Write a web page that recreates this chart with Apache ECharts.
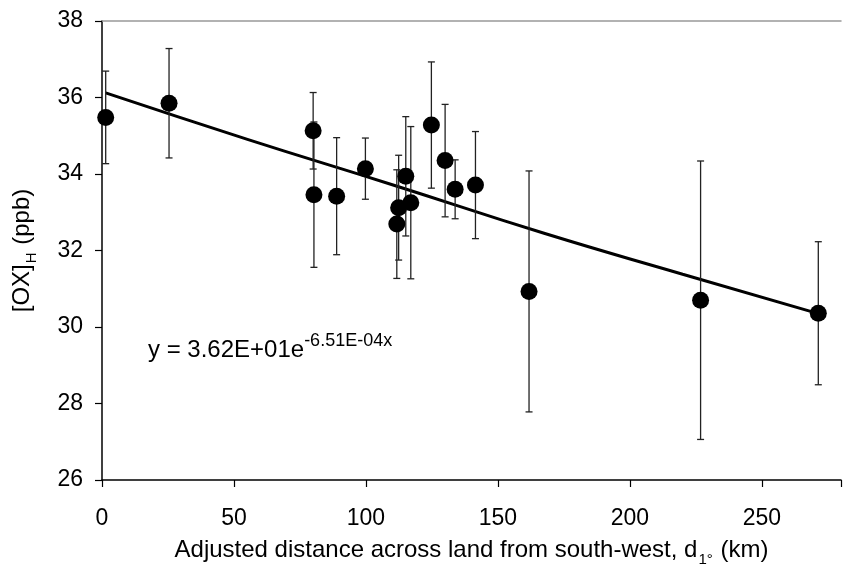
<!DOCTYPE html>
<html>
<head>
<meta charset="utf-8">
<script src="https://cdn.jsdelivr.net/npm/echarts@6/dist/echarts.min.js"></script>
<style>
html,body{margin:0;padding:0;background:#fff;}
#chart{width:844px;height:572px;}
</style>
</head>
<body>
<div id="chart"></div>
<script>
// distance (km)
const distances = [1.4, 25.4, 80.0, 80.3, 88.9, 99.8, 111.7, 112.4, 115.1, 117.0, 124.8, 130.0, 133.8, 141.5, 161.8, 226.8, 271.4];
// [OX]H (ppb)
const oxValues = [35.48, 35.85, 35.13, 33.46, 33.42, 34.14, 32.69, 33.12, 33.94, 33.25, 35.28, 34.35, 33.60, 33.71, 30.93, 30.70, 30.36];
// error bar half-widths (ppb)
const oxErrors = [1.21, 1.43, 1.00, 1.90, 1.53, 0.80, 1.42, 1.37, 1.56, 1.99, 1.65, 1.47, 0.77, 1.40, 3.15, 3.64, 1.87];
// fitted trend line
const trendX = [1.4, 55.4, 110, 167.5, 220, 271.4];
const trendY = [36.12, 34.90, 33.72, 32.45, 31.38, 30.35];
// axis ticks
const xTicks = [0, 50, 100, 150, 200, 250];
const yTicks = [26, 28, 30, 32, 34, 36, 38];

const FONT = '"Liberation Sans", Arial, sans-serif';

const scatterData = distances.map((d, i) => [d, oxValues[i]]);
const errorData = distances.map((d, i) => [d, oxValues[i] - oxErrors[i], oxValues[i] + oxErrors[i]]);
const trendData = trendX.map((x, i) => [x, trendY[i]]);

const chart = echarts.init(document.getElementById('chart'), null, {renderer: 'canvas'});

const option = {
  animation: false,
  backgroundColor: '#fff',
  grid: {left: 102, right: -8, top: 21, bottom: 88, containLabel: false},
  xAxis: [{
    type: 'value',
    min: 0, max: 280, interval: 50,
    position: 'bottom',
    axisLine: {show: true, onZero: false, lineStyle: {color: '#000', width: 1.5}},
    axisTick: {show: true, inside: false, length: 7, lineStyle: {color: '#000', width: 1.2}},
    axisLabel: {
      show: true, margin: 27, color: '#000', fontSize: 23, fontFamily: FONT,
      formatter: v => xTicks.indexOf(v) >= 0 ? String(v) : ''
    },
    splitLine: {show: false},
    name: 'Adjusted distance across land from south-west, d{sub|1°} (km)',
    nameLocation: 'middle',
    nameGap: 56,
    nameTextStyle: {
      color: '#000', fontSize: 24, fontFamily: FONT, lineHeight: 28,
      rich: {sub: {fontSize: 15, fontFamily: FONT, color: '#000', verticalAlign: 'bottom', lineHeight: 16, padding: [0, 1, -3, 1]}}
    }
  }, {
    type: 'value',
    min: 0, max: 280, interval: 50,
    position: 'top',
    axisLine: {show: true, onZero: false, lineStyle: {color: '#999', width: 1.5}},
    axisTick: {show: false},
    axisLabel: {show: false},
    splitLine: {show: false}
  }],
  yAxis: {
    type: 'value',
    min: 26, max: 38, interval: 2,
    axisLine: {show: true, onZero: false, lineStyle: {color: '#000', width: 1.5}},
    axisTick: {show: true, inside: false, length: 7, lineStyle: {color: '#000', width: 1.2}},
    axisLabel: {
      show: true, margin: 19, color: '#000', fontSize: 23, fontFamily: FONT,
      formatter: v => yTicks.indexOf(v) >= 0 ? String(v) : ''
    },
    splitLine: {show: false},
    name: '[OX]{sub|H} (ppb)',
    nameLocation: 'middle',
    nameRotate: 90,
    nameGap: 66,
    nameTextStyle: {
      color: '#000', fontSize: 24, fontFamily: FONT, lineHeight: 28,
      rich: {sub: {fontSize: 15, fontFamily: FONT, color: '#000', verticalAlign: 'bottom', lineHeight: 16, padding: [0, 1, -3, 1]}}
    }
  },
  graphic: [{
    type: 'text',
    left: 148,
    top: 332,
    style: {
      text: 'y = 3.62E+01e{sup|-6.51E-04x}',
      fill: '#000',
      font: '24px ' + FONT,
      lineHeight: 28,
      rich: {
        sup: {fontSize: 18, fontFamily: FONT, fill: '#000', verticalAlign: 'top', lineHeight: 18, padding: [-4, 0, 0, 0]}
      }
    },
    z: 100
  }],
  series: [{
    type: 'line',
    data: trendData,
    showSymbol: false,
    symbol: 'none',
    smooth: true,
    lineStyle: {color: '#000', width: 3},
    z: 3,
    silent: true
  }, {
    type: 'custom',
    data: errorData,
    encode: {x: 0, y: [1, 2]},
    z: 4,
    silent: true,
    renderItem: function (params, api) {
      const x = api.value(0);
      const lo = api.coord([x, api.value(1)]);
      const hi = api.coord([x, api.value(2)]);
      const w = 3.5;
      const st = {stroke: '#222', lineWidth: 1.3};
      return {
        type: 'group',
        children: [
          {type: 'line', shape: {x1: lo[0], y1: lo[1], x2: hi[0], y2: hi[1]}, style: st},
          {type: 'line', shape: {x1: lo[0] - w, y1: lo[1], x2: lo[0] + w, y2: lo[1]}, style: st},
          {type: 'line', shape: {x1: hi[0] - w, y1: hi[1], x2: hi[0] + w, y2: hi[1]}, style: st}
        ]
      };
    }
  }, {
    type: 'scatter',
    data: scatterData,
    symbol: 'circle',
    symbolSize: 17,
    itemStyle: {color: '#000', opacity: 1},
    z: 5,
    silent: true
  }]
};
chart.setOption(option);
</script>
</body>
</html>
